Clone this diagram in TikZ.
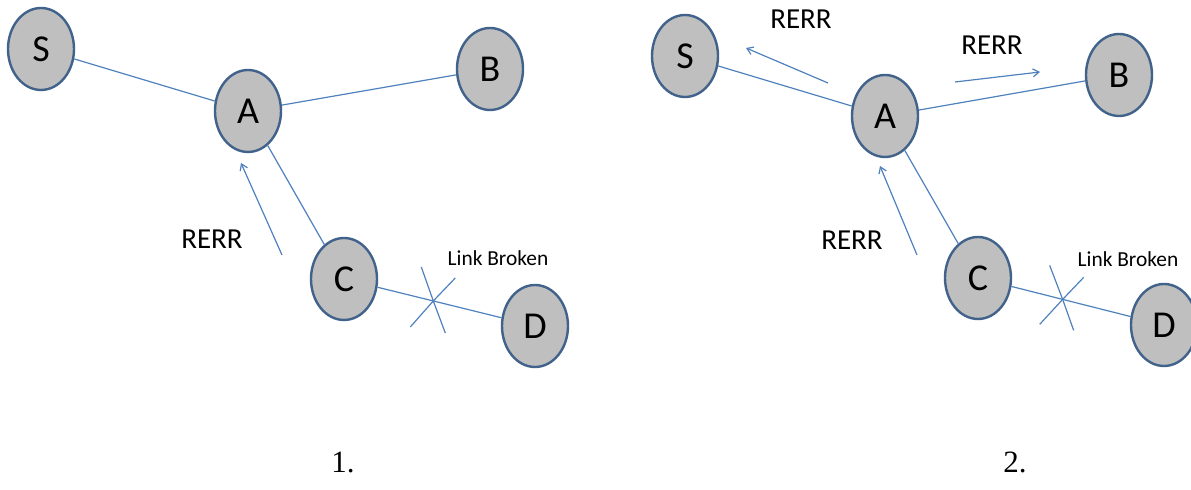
\documentclass[tikz,border=0pt]{standalone}
\usepackage{fontspec}
\setmainfont{Carlito}
\newfontfamily\numfont{Liberation Serif}
\usetikzlibrary{arrows.meta,shapes.geometric}

\definecolor{nodefill}{RGB}{191,191,191}
\definecolor{nodeline}{RGB}{65,98,138}
\definecolor{linkline}{RGB}{79,129,189}

\begin{document}
\begin{tikzpicture}[x=0.5pt,y=-0.5pt,>={Straight Barb[length=3pt,width=4pt]},
                    main node/.style={ellipse,draw=nodeline,line width=1.2pt,fill=nodefill,
                      minimum width=33pt,minimum height=41pt,inner sep=0pt,
                      font=\fontsize{19}{21}\selectfont},
                    link/.style={draw=linkline,line width=0.6pt},
                    msg/.style={font=\fontsize{14.5}{16}\selectfont},
                    note/.style={font=\fontsize{10.7}{12}\selectfont}]
  \useasboundingbox (0,0) rectangle (1191,490);
  % panel 1
  \node[main node] (s1) at (41,49) {S};
  \node[main node] (a1) at (248,111) {A};
  \node[main node] (b1) at (490,69) {B};
  \node[main node] (c1) at (344,279) {C};
  \node[main node] (d1) at (535,326) {D};
  \path[link]
    (s1) edge (a1)
    (a1) edge (b1)
    (a1) edge (c1)
    (c1) edge coordinate[pos=0.45] (x1) (d1);
  \draw[link] (x1) ++(-12,-34) coordinate (x1a) -- (x1) -- ++(12,32) coordinate (x1b);
  \draw[link] (x1) ++(22,-23) coordinate (x1c) -- (x1) -- ++(-23,26) coordinate (x1d);
  \node[note] (lb1) at (498,258) {Link Broken};
  \coordinate (r1s) at (282,255);
  \coordinate (r1e) at (241,163);
  \draw[link,->] (r1s) -- (r1e);
  \node[msg] (rerr1) at (212,239) {RERR};
  \node[font=\numfont\fontsize{15.5}{17}\selectfont] (n1) at (343,462) {1.};
  % panel 2
  \node[main node] (s2) at (685,56) {S};
  \node[main node] (a2) at (885,116) {A};
  \node[main node] (b2) at (1119,75) {B};
  \node[main node] (c2) at (978,278) {C};
  \node[main node] (d2) at (1164,325) {D};
  \path[link]
    (s2) edge (a2)
    (a2) edge (b2)
    (a2) edge (c2)
    (c2) edge coordinate[pos=0.43] (x2) (d2);
  \draw[link] (x2) ++(-13,-34) coordinate (x2a) -- (x2) -- ++(11,31) coordinate (x2b);
  \draw[link] (x2) ++(21,-22) coordinate (x2c) -- (x2) -- ++(-23,25) coordinate (x2d);
  \node[note] (lb2) at (1128,259) {Link Broken};
  \coordinate (r2s) at (828,83);
  \coordinate (r2e) at (746,48);
  \draw[link,->] (r2s) -- (r2e);
  \node[msg] (rerr2) at (801,19) {RERR};
  \coordinate (r3s) at (955,82);
  \coordinate (r3e) at (1040,72);
  \draw[link,->] (r3s) -- (r3e);
  \node[msg] (rerr3) at (992,45) {RERR};
  \coordinate (r4s) at (917,255);
  \coordinate (r4e) at (880,166);
  \draw[link,->] (r4s) -- (r4e);
  \node[msg] (rerr4) at (852,240) {RERR};
  \node[font=\numfont\fontsize{15.5}{17}\selectfont] (n2) at (1015,462) {2.};
\end{tikzpicture}
\end{document}
